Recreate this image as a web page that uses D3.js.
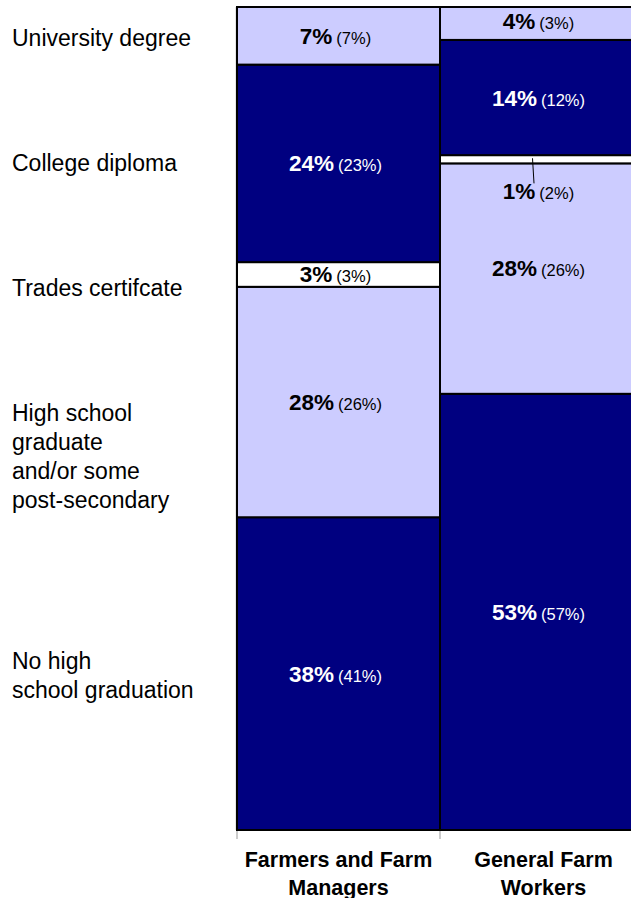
<!DOCTYPE html>
<html>
<head>
<meta charset="utf-8">
<script src="https://cdn.jsdelivr.net/npm/d3@7"></script>
<style>
  body { margin: 0; background: #fff; overflow: hidden; }
  text { font-family: "Liberation Sans", Arial, sans-serif; }
</style>
</head>
<body>
<div id="canvas"></div>
<script>
// categories, bottom to top
var levels = ["No high school graduation", "High school graduate and/or some post-secondary",
  "Trades certifcate", "College diploma", "University degree"];
var levelLines = [["No high", "school graduation"],
  ["High school", "graduate", "and/or some", "post-secondary"],
  ["Trades certifcate"], ["College diploma"], ["University degree"]];
var groups = ["Farmers and Farm Managers", "General Farm Workers"];
var groupLines = [["Farmers and Farm", "Managers"], ["General Farm", "Workers"]];
var farmers = [38, 28, 3, 24, 7];
var farmersPrev = [41, 26, 3, 23, 7];
var workers = [53, 28, 1, 14, 4];
var workersPrev = [57, 26, 2, 12, 3];
var colors = ["#000080", "#ccccff", "#ffffff", "#000080", "#ccccff"];
var textColors = ["#fff", "#000", "#000", "#fff", "#000"];

var width = 631, height = 898;
var margin = {left: 237, top: 7, bottom: 68};

var svg = d3.select("#canvas").append("svg")
  .attr("width", width)
  .attr("height", height)
  .style("display", "block");

var x = d3.scaleBand()
  .domain(groups)
  .range([margin.left, margin.left + 406])
  .padding(0);
var y = d3.scaleLinear()
  .domain([0, 100])
  .range([height - margin.bottom, margin.top]);
var bw = x.bandwidth();

var series = [farmers, workers];
var prev = [farmersPrev, workersPrev];

// stacked segments
var segs = [];
series.forEach((vals, gi) => {
  var acc = 0;
  vals.forEach((v, li) => {
    segs.push({g: groups[gi], gi: gi, li: li, y0: acc, y1: acc + v, v: v, p: prev[gi][li]});
    acc += v;
  });
});

// faint left axis
svg.append("line")
  .attr("x1", margin.left - 1).attr("x2", margin.left - 1)
  .attr("y1", y(100)).attr("y2", y(0))
  .attr("stroke", "#ccc").attr("stroke-width", 1);

svg.selectAll("rect.seg").data(segs).enter()
  .append("rect")
  .attr("class", "seg")
  .attr("x", (d) => x(d.g))
  .attr("y", (d) => y(d.y1))
  .attr("width", bw)
  .attr("height", (d) => y(d.y0) - y(d.y1))
  .attr("fill", (d) => colors[d.li])
  .attr("stroke", "#000")
  .attr("stroke-width", 2);

// bottom tick marks
groups.forEach((g) => {
  svg.append("line")
    .attr("x1", x(g)).attr("x2", x(g))
    .attr("y1", y(0) + 1).attr("y2", y(0) + 9)
    .attr("stroke", "#999").attr("stroke-width", 1);
});

// value labels
function labelY(d) {
  var mid = (y(d.y0) + y(d.y1)) / 2;
  if (d.gi == 1 && d.li == 2) return y(d.y0) + 36;   // below the thin segment
  if (d.gi == 1 && d.li == 1) return mid - 3;
  if (d.gi == 1 && d.li == 4) return mid + 5.5;
  return mid + 8;
}
var labels = svg.selectAll("text.val").data(segs).enter()
  .append("text")
  .attr("class", "val")
  .attr("text-anchor", "middle")
  .attr("fill", (d) => textColors[d.li])
  .attr("x", (d) => x(d.g) + bw / 2 - 3)
  .attr("y", labelY);
labels.append("tspan")
  .attr("font-weight", "bold")
  .attr("font-size", "22.5px")
  .text((d) => d.v + "%");
labels.append("tspan")
  .attr("font-size", "16.5px")
  .attr("dx", 4)
  .text((d) => "(" + d.p + "%)");

// leader line for the 1% segment
segs.filter((d) => d.gi == 1 && d.li == 2).forEach((d) => {
  var cx = x(d.g) + bw / 2 - 8;
  svg.append("line")
    .attr("x1", cx - 1).attr("x2", cx + 0.5)
    .attr("y1", (y(d.y0) + y(d.y1)) / 2 - 1)
    .attr("y2", y(d.y0) + 20)
    .attr("stroke", "#000").attr("stroke-width", 1);
});

// category labels on the left (first-line baselines)
var levelBase = [669, 421, 296, 171, 46];
levels.forEach((l, li) => {
  var t = svg.append("text")
    .attr("font-size", "23px")
    .attr("fill", "#000");
  levelLines[li].forEach((ln, k) => {
    t.append("tspan")
      .attr("x", 12)
      .attr("y", levelBase[li] + k * 29)
      .text(ln);
  });
});

// group labels
groups.forEach((g, gi) => {
  var t = svg.append("text")
    .attr("text-anchor", "middle")
    .attr("font-size", "21.5px")
    .attr("font-weight", "bold");
  groupLines[gi].forEach((ln, k) => {
    t.append("tspan")
      .attr("x", x(g) + bw / 2 + (gi == 1 ? 2 : 0))
      .attr("y", y(0) + 37 + k * 28)
      .text(ln);
  });
});
</script>
</body>
</html>
